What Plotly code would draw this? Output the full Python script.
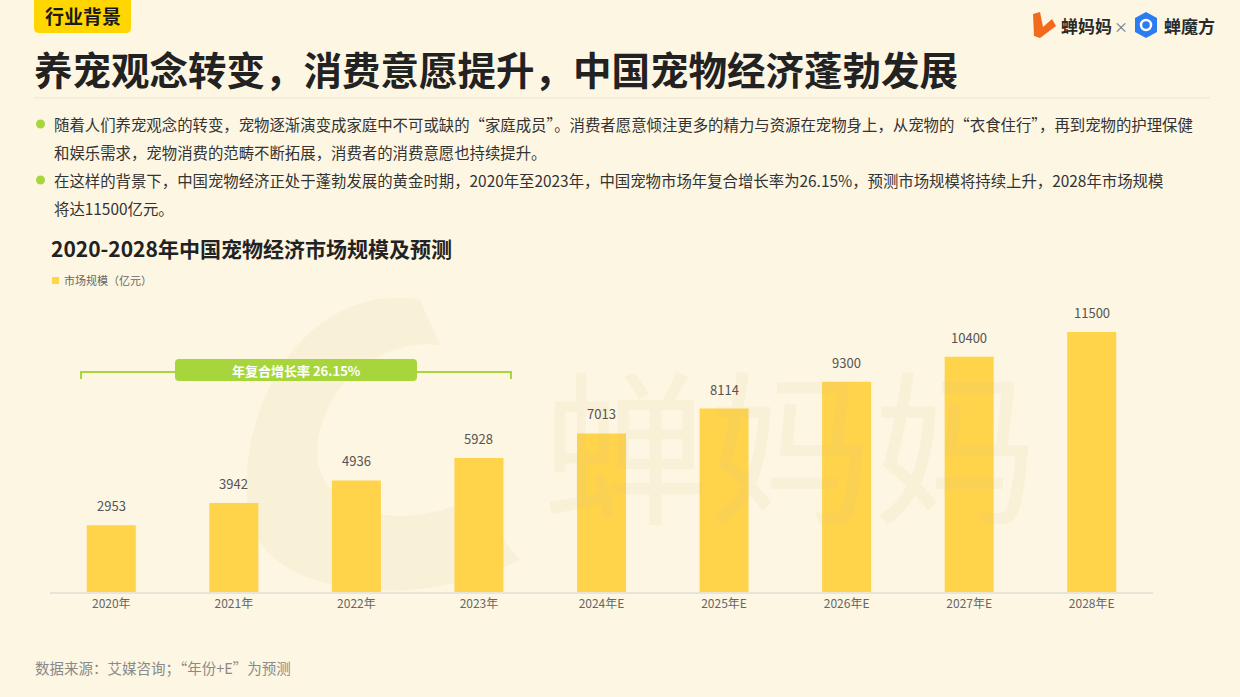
import plotly.graph_objects as go

W, H = 1240, 697
FONT = "Noto Sans CJK SC"

categories = ["2020年", "2021年", "2022年", "2023年", "2024年E", "2025年E", "2026年E", "2027年E", "2028年E"]
market_size = [2953, 3942, 4936, 5928, 7013, 8114, 9300, 10400, 11500]
series_name = "市场规模（亿元）"
cagr_label = "年复合增长率 26.15%"

title = "养宠观念转变，消费意愿提升，中国宠物经济蓬勃发展"
tag = "行业背景"
chart_title = "2020-2028年中国宠物经济市场规模及预测"
bullets = [
    ["随着人们养宠观念的转变，宠物逐渐演变成家庭中不可或缺的“家庭成员”。消费者愿意倾注更多的精力与资源在宠物身上，从宠物的“衣食住行”，再到宠物的护理保健",
     "和娱乐需求，宠物消费的范畴不断拓展，消费者的消费意愿也持续提升。"],
    ["在这样的背景下，中国宠物经济正处于蓬勃发展的黄金时期，2020年至2023年，中国宠物市场年复合增长率为26.15%，预测市场规模将持续上升，2028年市场规模",
     "将达11500亿元。"],
]
source = "数据来源：艾媒咨询；“年份+E”为预测"


def px(x):
    return x / W


def py(y):
    return 1 - y / H


# plot area in pixels
X0, X1 = 50, 1153
Y_TOP, Y_BASE = 300, 592
PX_PER_UNIT = 260 / 11500
y_max = (Y_BASE - Y_TOP) / PX_PER_UNIT

BAR = "#FFD34A"
GREEN = "#A6D63C"

fig = go.Figure()
fig.add_trace(go.Bar(
    x=categories, y=market_size, name=series_name,
    marker=dict(color=BAR, line=dict(width=0)),
    hoverinfo="x+y",
))

shapes = []
annotations = []

# watermark (faint)
annotations.append(dict(x=px(790), y=py(440), xref="paper", yref="paper", text="蝉妈妈",
                        showarrow=False, font=dict(family=FONT, size=165, color="rgba(215,195,140,0.12)"),
                        xanchor="center", yanchor="middle"))
shapes.append(dict(type="path", xref="paper", yref="paper", layer="below",
                   path=(f"M {px(420)},{py(300)} C {px(300)},{py(280)} {px(230)},{py(420)} {px(250)},{py(520)} "
                         f"C {px(270)},{py(600)} {px(420)},{py(610)} {px(520)},{py(560)} "
                         f"L {px(470)},{py(500)} C {px(380)},{py(540)} {px(300)},{py(500)} {px(320)},{py(430)} "
                         f"C {px(340)},{py(360)} {px(400)},{py(340)} {px(440)},{py(345)} Z"),
                   fillcolor="rgba(215,195,140,0.12)", line=dict(width=0)))

# tag
shapes.append(dict(type="path", xref="paper", yref="paper",
                   path=(f"M {px(34)},{py(0)} L {px(131)},{py(0)} L {px(131)},{py(28)} "
                         f"Q {px(131)},{py(33)} {px(126)},{py(33)} L {px(39)},{py(33)} "
                         f"Q {px(34)},{py(33)} {px(34)},{py(28)} Z"),
                   fillcolor="#FFD600", line=dict(width=0)))
annotations.append(dict(x=px(82.5), y=py(16), xref="paper", yref="paper", text=f"<b>{tag}</b>",
                        showarrow=False, font=dict(family=FONT, size=19, color="#1A1A1A"),
                        xanchor="center", yanchor="middle"))

# main title
annotations.append(dict(x=px(32), y=py(68), xref="paper", yref="paper", text=f"<b>{title}</b>",
                        showarrow=False, font=dict(family=FONT, size=38.5, color="#222222"),
                        xanchor="left", yanchor="middle"))
shapes.append(dict(type="line", xref="paper", yref="paper", x0=px(34), x1=px(1210), y0=py(98), y1=py(98),
                   line=dict(color="#EDE5CF", width=1)))

# logos
shapes.append(dict(type="path", xref="paper", yref="paper",
                   path=(f"M {px(1033)},{py(14)} L {px(1040)},{py(12)} L {px(1043)},{py(27)} "
                         f"L {px(1052)},{py(19)} L {px(1056)},{py(26)} L {px(1040)},{py(38)} "
                         f"L {px(1034)},{py(36)} Z"),
                   fillcolor="#F26B1D", line=dict(width=0)))
annotations.append(dict(x=px(1059), y=py(25), xref="paper", yref="paper", text="<b>蝉妈妈</b>",
                        showarrow=False, font=dict(family=FONT, size=17, color="#2A2A2A"),
                        xanchor="left", yanchor="middle"))
annotations.append(dict(x=px(1121), y=py(26), xref="paper", yref="paper", text="×",
                        showarrow=False, font=dict(family=FONT, size=14, color="#777777"),
                        xanchor="center", yanchor="middle"))
shapes.append(dict(type="path", xref="paper", yref="paper",
                   path=(f"M {px(1146)},{py(12)} L {px(1157)},{py(18)} L {px(1157)},{py(32)} "
                         f"L {px(1146)},{py(38)} L {px(1135)},{py(32)} L {px(1135)},{py(18)} Z"),
                   fillcolor="#2B7CF0", line=dict(width=0)))
shapes.append(dict(type="circle", xref="paper", yref="paper",
                   x0=px(1141), x1=px(1151), y0=py(20), y1=py(30),
                   fillcolor="rgba(0,0,0,0)", line=dict(color="white", width=2.5)))
annotations.append(dict(x=px(1162), y=py(25), xref="paper", yref="paper", text="<b>蝉魔方</b>",
                        showarrow=False, font=dict(family=FONT, size=17, color="#2A2A2A"),
                        xanchor="left", yanchor="middle"))

# bullets
line_y = [[124, 152], [180, 208]]
for lines, ys in zip(bullets, line_y):
    shapes.append(dict(type="circle", xref="paper", yref="paper",
                       x0=px(36), x1=px(45), y0=py(ys[0] - 4.5), y1=py(ys[0] + 4.5),
                       fillcolor=GREEN, line=dict(width=0)))
    for t, yy in zip(lines, ys):
        annotations.append(dict(x=px(52), y=py(yy), xref="paper", yref="paper", text=t,
                                showarrow=False, font=dict(family=FONT, size=15.4, color="#333333"),
                                xanchor="left", yanchor="middle"))

# chart title + legend
annotations.append(dict(x=px(49), y=py(248), xref="paper", yref="paper", text=f"<b>{chart_title}</b>",
                        showarrow=False, font=dict(family=FONT, size=21, color="#222222"),
                        xanchor="left", yanchor="middle"))
shapes.append(dict(type="rect", xref="paper", yref="paper", x0=px(52), x1=px(59), y0=py(277), y1=py(284),
                   fillcolor=BAR, line=dict(width=0)))
annotations.append(dict(x=px(62), y=py(280), xref="paper", yref="paper", text=series_name,
                        showarrow=False, font=dict(family=FONT, size=11, color="#666666"),
                        xanchor="left", yanchor="middle"))

# CAGR bracket
shapes.append(dict(type="path", xref="paper", yref="paper",
                   path=f"M {px(81)},{py(379)} L {px(81)},{py(372)} L {px(511)},{py(372)} L {px(511)},{py(379)}",
                   line=dict(color=GREEN, width=2)))
shapes.append(dict(type="path", xref="paper", yref="paper",
                   path=(f"M {px(179)},{py(359)} L {px(413)},{py(359)} Q {px(417)},{py(359)} {px(417)},{py(363)} "
                         f"L {px(417)},{py(377)} Q {px(417)},{py(381)} {px(413)},{py(381)} L {px(179)},{py(381)} "
                         f"Q {px(175)},{py(381)} {px(175)},{py(377)} L {px(175)},{py(363)} "
                         f"Q {px(175)},{py(359)} {px(179)},{py(359)} Z"),
                   fillcolor=GREEN, line=dict(width=0)))
annotations.append(dict(x=px(296), y=py(370), xref="paper", yref="paper", text=f"<b>{cagr_label}</b>",
                        showarrow=False, font=dict(family=FONT, size=13, color="white"),
                        xanchor="center", yanchor="middle"))

# value labels
for c, v in zip(categories, market_size):
    annotations.append(dict(x=c, y=v, xref="x", yref="y", text=str(v), showarrow=False,
                            yanchor="bottom", yshift=8,
                            font=dict(family=FONT, size=13, color="#555555")))

# source
annotations.append(dict(x=px(33), y=py(667), xref="paper", yref="paper", text=source,
                        showarrow=False, font=dict(family=FONT, size=14.5, color="#8A8A8A"),
                        xanchor="left", yanchor="middle"))

fig.update_layout(
    width=W, height=H,
    margin=dict(l=0, r=0, t=0, b=0),
    paper_bgcolor="#FDF6E2",
    plot_bgcolor="rgba(0,0,0,0)",
    showlegend=False,
    bargap=0.6,
    font=dict(family=FONT),
    shapes=shapes,
    annotations=annotations,
    xaxis=dict(domain=[px(X0), px(X1)], showgrid=False, showline=True, linecolor="#E8E4D8", linewidth=2,
               ticks="", tickfont=dict(family=FONT, size=12, color="#666666"), fixedrange=True),
    yaxis=dict(domain=[py(Y_BASE), py(Y_TOP)], range=[0, y_max], visible=False, fixedrange=True),
)

fig.write_html("out.html", config={"displayModeBar": False},
               post_script="document.body.style.margin='0';document.body.style.background='#FDF6E2';")
